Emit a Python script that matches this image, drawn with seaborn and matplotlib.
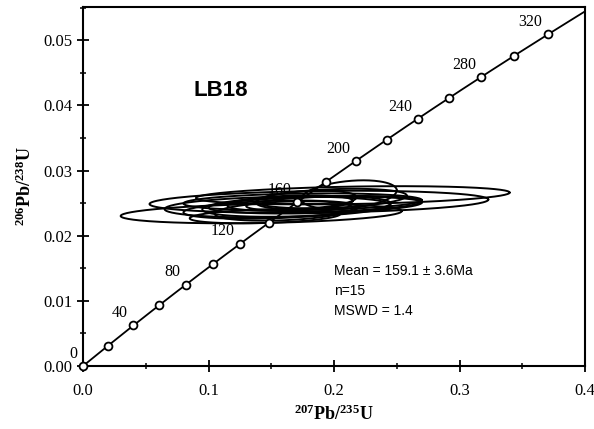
import numpy as np
import pandas as pd
import matplotlib
matplotlib.use("Agg")
import matplotlib.pyplot as plt
import seaborn as sns
from matplotlib.ticker import MultipleLocator, FormatStrFormatter

# concordia marker ages (Ma) and which ones get a label
marker_ages = [0, 20, 40, 60, 80, 100, 120, 140, 160, 180, 200, 220, 240, 260, 280, 300, 320]
label_ages = [0, 40, 80, 120, 160, 200, 240, 280, 320]

# analysis error ellipses: 207Pb/235U centre, 206Pb/238U centre, half-widths, correlation
ell_x = [0.142, 0.188, 0.215, 0.170, 0.160, 0.212, 0.175, 0.150, 0.165, 0.198, 0.185, 0.155, 0.178, 0.200, 0.145]
ell_y = [0.0234, 0.0252, 0.0262, 0.0245, 0.0238, 0.0263, 0.0252, 0.0240, 0.0250, 0.0257, 0.0247, 0.0244, 0.0255, 0.0249, 0.0230]
ell_sx = [0.112, 0.135, 0.125, 0.075, 0.055, 0.038, 0.095, 0.070, 0.050, 0.060, 0.085, 0.090, 0.040, 0.070, 0.060]
ell_sy = [0.0015, 0.0017, 0.0014, 0.0016, 0.0015, 0.0022, 0.0013, 0.0014, 0.0012, 0.0015, 0.0013, 0.0016, 0.0014, 0.0012, 0.0011]
ell_rho = [0.25, 0.20, 0.30, 0.30, 0.30, 0.30, 0.20, 0.30, 0.30, 0.30, 0.30, 0.20, 0.30, 0.30, 0.30]

sample_name = "LB18"
stats_lines = ["Mean = 159.1 \u00b1 3.6Ma", "n=15", "MSWD = 1.4"]

# decay constants (per year)
L238 = 1.55125e-10
L235 = 9.8485e-10

sns.set_style("ticks")
plt.rcParams["font.family"] = ["Liberation Serif", "DejaVu Serif"]
plt.rcParams["mathtext.fontset"] = "custom"
plt.rcParams["mathtext.rm"] = "Liberation Serif"
plt.rcParams["mathtext.bf"] = "Liberation Serif:bold"
for k in ["text.color", "axes.labelcolor", "xtick.color", "ytick.color", "axes.edgecolor"]:
    plt.rcParams[k] = "black"

fig = plt.figure(figsize=(5.94, 4.29), dpi=100)
ax = fig.add_axes([83 / 594, 1 - 366 / 429, (585 - 83) / 594, (366 - 7) / 429])

# concordia curve
t = np.linspace(0, 345, 400) * 1e6
curve = pd.DataFrame({"x": np.exp(L235 * t) - 1, "y": np.exp(L238 * t) - 1})
sns.lineplot(data=curve, x="x", y="y", sort=False, color="black", lw=1.3, ax=ax, zorder=2)

# error ellipses
th = np.linspace(0, 2 * np.pi, 200)
for cx, cy, sx, sy, r in zip(ell_x, ell_y, ell_sx, ell_sy, ell_rho):
    ex = cx + sx * np.cos(th)
    ey = cy + sy * (r * np.cos(th) + np.sqrt(1 - r ** 2) * np.sin(th))
    ax.plot(ex, ey, color="black", lw=1.4, zorder=3)

# age markers
ages = np.array(marker_ages) * 1e6
marks = pd.DataFrame({"x": np.exp(L235 * ages) - 1, "y": np.exp(L238 * ages) - 1})
sns.scatterplot(data=marks, x="x", y="y", s=32, facecolor="white", edgecolor="black",
                linewidth=1.3, ax=ax, zorder=4, clip_on=False)

for a in label_ages:
    tx = np.exp(L235 * a * 1e6) - 1
    ty = np.exp(L238 * a * 1e6) - 1
    ax.annotate(str(a), (tx, ty), xytext=(-4, 3), textcoords="offset points",
                ha="right", va="bottom", fontsize=11.5, zorder=5)

ax.set_xlim(0, 0.4)
ax.set_ylim(0, 0.0551)
ax.xaxis.set_major_locator(MultipleLocator(0.1))
ax.xaxis.set_minor_locator(MultipleLocator(0.05))
ax.yaxis.set_major_locator(MultipleLocator(0.01))
ax.yaxis.set_minor_locator(MultipleLocator(0.005))
ax.xaxis.set_major_formatter(FormatStrFormatter("%.1f"))
ax.yaxis.set_major_formatter(FormatStrFormatter("%.2f"))
ax.tick_params(which="major", direction="inout", length=8, width=1.3, labelsize=12)
ax.tick_params(which="minor", direction="inout", length=4, width=1.1)
ax.tick_params(axis="x", pad=8)
for sp in ax.spines.values():
    sp.set_visible(True)
    sp.set_linewidth(1.5)
    sp.set_color("black")

ax.set_xlabel(r"$\mathbf{^{207}Pb/^{235}U}$", fontsize=13, labelpad=4)
ax.set_ylabel(r"$\mathbf{^{206}Pb/^{238}U}$", fontsize=13, labelpad=6)

ax.text(0.0877, 0.0423, sample_name, fontsize=16, fontweight="bold",
        family=["Liberation Sans", "DejaVu Sans"], ha="left", va="center")
for i, line in enumerate(stats_lines):
    ax.text(0.2, 0.0146 - i * 0.0031, line, fontsize=10,
            family=["Liberation Sans", "DejaVu Sans"], ha="left", va="center")

fig.savefig("out.png", dpi=100)
